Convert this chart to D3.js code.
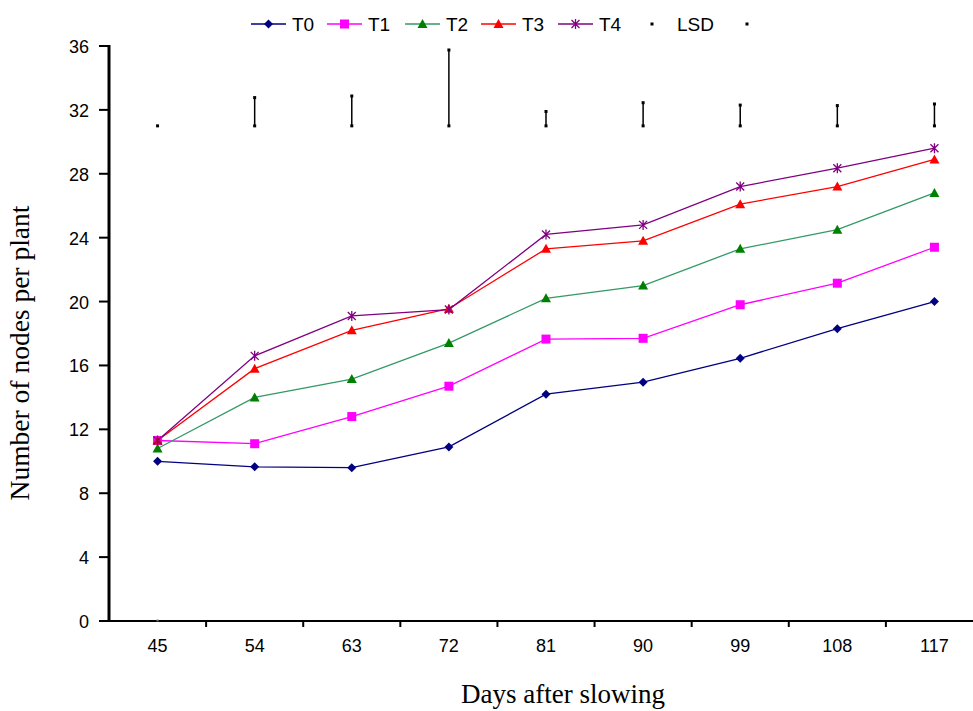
<!DOCTYPE html>
<html>
<head>
<meta charset="utf-8">
<script src="https://cdn.jsdelivr.net/npm/d3@7/dist/d3.min.js"></script>
<style>
body { margin: 0; background: #fff; }
svg { display: block; }
</style>
</head>
<body>
<svg id="chart" width="973" height="711"></svg>
<script>
var days = ['45', '54', '63', '72', '81', '90', '99', '108', '117'];
var yTicks = [0, 4, 8, 12, 16, 20, 24, 28, 32, 36];

var t0 = [10.0, 9.65, 9.6, 10.9, 14.2, 14.95, 16.45, 18.3, 20.0];
var t1 = [11.3, 11.1, 12.8, 14.7, 17.65, 17.7, 19.8, 21.15, 23.4];
var t2 = [10.8, 14.0, 15.15, 17.4, 20.2, 21.0, 23.3, 24.5, 26.8];
var t3 = [11.3, 15.8, 18.2, 19.55, 23.3, 23.8, 26.1, 27.2, 28.9];
var t4 = [11.3, 16.6, 19.1, 19.5, 24.2, 24.8, 27.2, 28.35, 29.6];

// LSD bars drawn from a common base
var lsdBase = 31;
var lsdTop = [31, 32.77, 32.87, 35.75, 31.9, 32.45, 32.3, 32.27, 32.37];

var series = [
    {name: 'T0', values: t0, line: '#000080', fill: '#000080', shape: 'diamond'},
    {name: 'T1', values: t1, line: '#FF00FF', fill: '#FF00FF', shape: 'square'},
    {name: 'T2', values: t2, line: '#339966', fill: '#008000', shape: 'triangle'},
    {name: 'T3', values: t3, line: '#FF0000', fill: '#FF0000', shape: 'triangle'},
    {name: 'T4', values: t4, line: '#800080', fill: '#800080', shape: 'star'}
];

var sans = 'Liberation Sans, Arial, sans-serif';
var serif = 'Liberation Serif, Times New Roman, serif';

var svg = d3.select('#chart');

var x = d3.scaleBand().domain(days).range([109, 983]);
var y = d3.scaleLinear().domain([0, 36]).range([621, 46]);

function cx(i) { return x(days[i]) + x.bandwidth() / 2; }

function marker(g, shape, color) {
    if (shape == 'diamond') {
        g.append('path').attr('d', 'M0,-4.5L4.5,0L0,4.5L-4.5,0Z').attr('fill', color);
    } else if (shape == 'square') {
        g.append('rect').attr('x', -4.5).attr('y', -4.5).attr('width', 9).attr('height', 9)
            .attr('fill', color);
    } else if (shape == 'triangle') {
        g.append('path').attr('d', 'M0,-5L5,4L-5,4Z').attr('fill', color);
    } else if (shape == 'star') {
        g.append('path').attr('d', 'M-4,-4L4,4M-4,4L4,-4M0,-5L0,5')
            .attr('stroke', color).attr('stroke-width', 1.3).attr('fill', 'none');
    }
}

// x axis
svg.append('line')
    .attr('x1', 109).attr('x2', 983)
    .attr('y1', y(0)).attr('y2', y(0))
    .attr('stroke', '#000').attr('stroke-width', 2);
days.forEach(function(d, i) {
    if (i > 0) {
        svg.append('line')
            .attr('x1', x(d)).attr('x2', x(d))
            .attr('y1', y(0)).attr('y2', y(0) + 6)
            .attr('stroke', '#000').attr('stroke-width', 2);
    }
    svg.append('text')
        .attr('x', cx(i)).attr('y', y(0) + 31)
        .attr('text-anchor', 'middle')
        .attr('font-family', sans)
        .attr('font-size', 18)
        .text(d);
});
svg.append('line')
    .attr('x1', 980).attr('x2', 980)
    .attr('y1', y(0)).attr('y2', y(0) + 6)
    .attr('stroke', '#000').attr('stroke-width', 2);

// y axis
svg.append('line')
    .attr('x1', 109).attr('x2', 109)
    .attr('y1', y(36) - 1).attr('y2', y(0) + 1)
    .attr('stroke', '#000').attr('stroke-width', 3);
yTicks.forEach(function(v) {
    svg.append('line')
        .attr('x1', 99).attr('x2', 109)
        .attr('y1', y(v)).attr('y2', y(v))
        .attr('stroke', '#000').attr('stroke-width', 2);
    svg.append('text')
        .attr('x', 89).attr('y', y(v) + 7)
        .attr('text-anchor', 'end')
        .attr('font-family', sans)
        .attr('font-size', 18)
        .text(v);
});

// axis titles
svg.append('text')
    .attr('transform', 'translate(29,353) rotate(-90)')
    .attr('text-anchor', 'middle')
    .attr('font-family', serif)
    .attr('font-size', 27.5)
    .text('Number of nodes per plant');
svg.append('text')
    .attr('x', 563).attr('y', 703)
    .attr('text-anchor', 'middle')
    .attr('font-family', serif)
    .attr('font-size', 27)
    .text('Days after slowing');

// LSD bars
lsdTop.forEach(function(v, i) {
    var px = cx(i);
    if (v > lsdBase) {
        svg.append('line')
            .attr('x1', px).attr('x2', px)
            .attr('y1', y(lsdBase)).attr('y2', y(v))
            .attr('stroke', '#000').attr('stroke-width', 1.5);
        svg.append('rect').attr('x', px - 1.5).attr('y', y(v) - 1.5)
            .attr('width', 3).attr('height', 3).attr('fill', '#000');
    }
    svg.append('rect').attr('x', px - 1.5).attr('y', y(lsdBase) - 1.5)
        .attr('width', 3).attr('height', 3).attr('fill', '#000');
});
svg.append('rect').attr('x', cx(0) - 1).attr('y', y(0) - 1.5)
    .attr('width', 2).attr('height', 2).attr('fill', '#777');

// series lines and markers
var line = d3.line()
    .x(function(d, i) { return cx(i); })
    .y(function(d) { return y(d); });

series.forEach(function(s) {
    svg.append('path')
        .attr('d', line(s.values))
        .attr('fill', 'none')
        .attr('stroke', s.line)
        .attr('stroke-width', 1.3);
});
series.forEach(function(s) {
    s.values.forEach(function(v, i) {
        var g = svg.append('g').attr('transform', 'translate(' + cx(i) + ',' + y(v) + ')');
        marker(g, s.shape, s.fill);
    });
});

// legend
var legX = [251, 327, 405, 481, 558];
series.forEach(function(s, i) {
    var lx = legX[i];
    svg.append('line')
        .attr('x1', lx).attr('x2', lx + 35)
        .attr('y1', 24).attr('y2', 24)
        .attr('stroke', s.line).attr('stroke-width', 1.3);
    var g = svg.append('g').attr('transform', 'translate(' + (lx + 17.5) + ',24)');
    marker(g, s.shape, s.fill);
    svg.append('text')
        .attr('x', lx + 41).attr('y', 31)
        .attr('font-family', sans)
        .attr('font-size', 19)
        .text(s.name);
});
svg.append('rect').attr('x', 650.5).attr('y', 22.5).attr('width', 3).attr('height', 3).attr('fill', '#000');
svg.append('text')
    .attr('x', 677).attr('y', 31)
    .attr('font-family', sans)
    .attr('font-size', 19)
    .text('LSD');
svg.append('rect').attr('x', 745.5).attr('y', 22.5).attr('width', 3).attr('height', 3).attr('fill', '#000');
</script>
</body>
</html>
